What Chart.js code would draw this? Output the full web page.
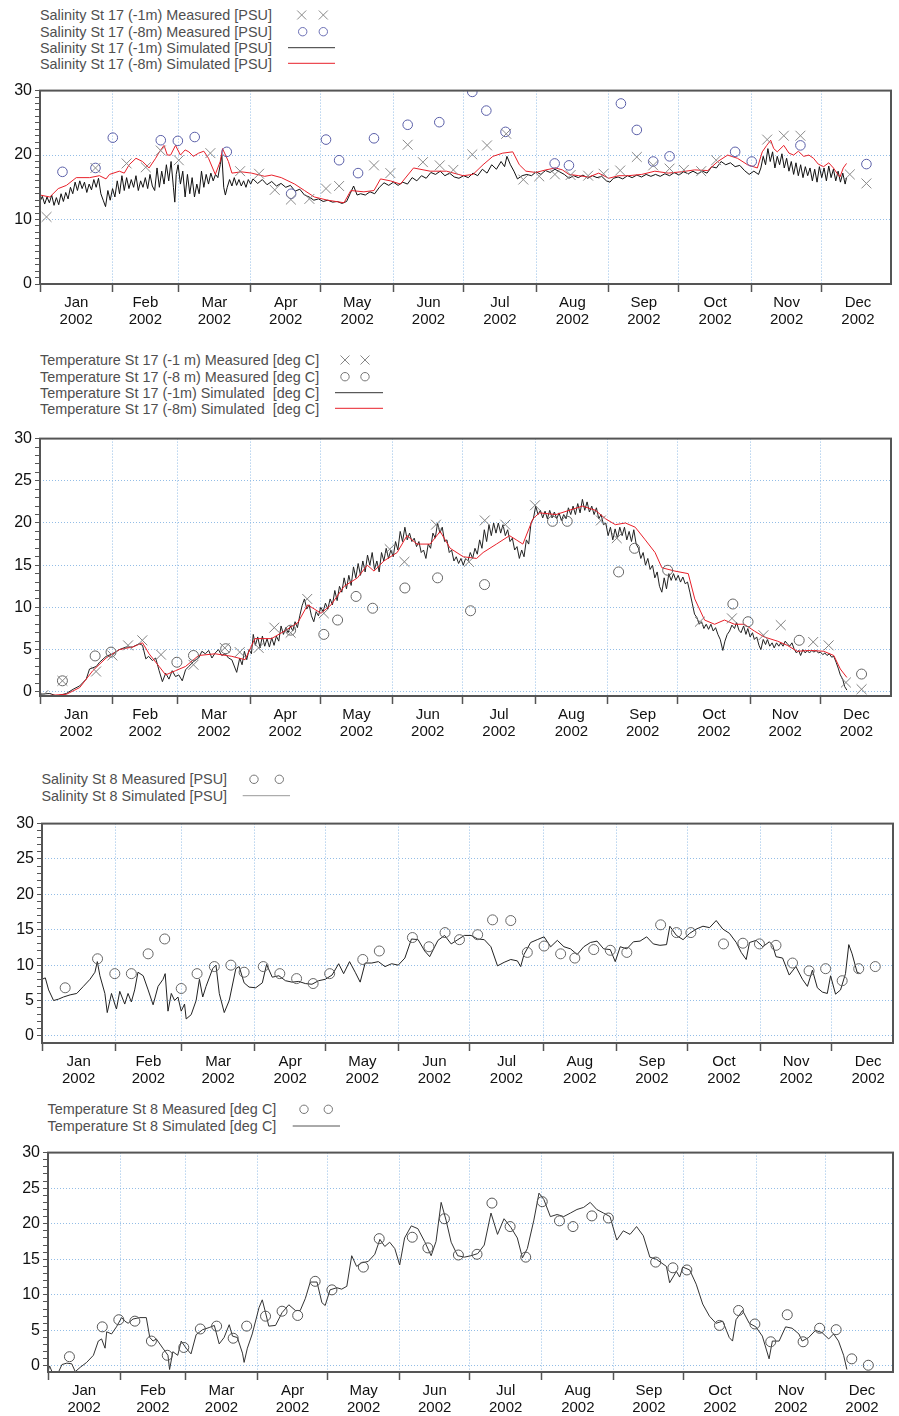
<!DOCTYPE html>
<html>
<head>
<meta charset="utf-8">
<title>St 17 / St 8 salinity and temperature 2002</title>
<script src="https://cdn.jsdelivr.net/npm/chart.js@4.4.0/dist/chart.umd.min.js"></script>
<style>
  body { margin: 0; background: #fff; width: 899px; height: 1416px; position: relative; overflow: hidden;
         font-family: "Liberation Sans", Arial, sans-serif; }
  canvas { position: absolute; left: 0; }
  .lg { position: absolute; font-size: 14.4px; line-height: 16px; color: #4f4f4f; white-space: pre; }
  svg.sym { position: absolute; left: 0; top: 0; pointer-events: none; }
</style>
</head>
<body>

<!-- legends -->
<div class="lg" style="left:40px;top:7px">Salinity St 17 (-1m) Measured [PSU]</div>
<div class="lg" style="left:40px;top:23.5px">Salinity St 17 (-8m) Measured [PSU]</div>
<div class="lg" style="left:40px;top:39.5px">Salinity St 17 (-1m) Simulated [PSU]</div>
<div class="lg" style="left:40px;top:55.5px">Salinity St 17 (-8m) Simulated [PSU]</div>

<div class="lg" style="left:40px;top:352px">Temperature St 17 (-1 m) Measured [deg C]</div>
<div class="lg" style="left:40px;top:368.5px">Temperature St 17 (-8 m) Measured [deg C]</div>
<div class="lg" style="left:40px;top:384.5px">Temperature St 17 (-1m) Simulated  [deg C]</div>
<div class="lg" style="left:40px;top:400.5px">Temperature St 17 (-8m) Simulated  [deg C]</div>

<div class="lg" style="left:41.5px;top:771px">Salinity St 8 Measured [PSU]</div>
<div class="lg" style="left:41.5px;top:787.5px">Salinity St 8 Simulated [PSU]</div>

<div class="lg" style="left:47.5px;top:1101px">Temperature St 8 Measured [deg C]</div>
<div class="lg" style="left:47.5px;top:1118px">Temperature St 8 Simulated [deg C]</div>

<svg class="sym" width="899" height="1416">
  <g fill="none" stroke-width="1">
    <path stroke="#8a8a8a" d="M297.2 10.5 L306.2 19.5 M306.2 10.5 L297.2 19.5 M318.8 10.5 L327.8 19.5 M327.8 10.5 L318.8 19.5"/>
    <circle stroke="#6b6fb5" cx="302.7" cy="31.7" r="4.2"/>
    <circle stroke="#6b6fb5" cx="323.3" cy="31.7" r="4.2"/>
    <path stroke="#333" d="M288 47.7 H335"/>
    <path stroke="#e8202a" d="M288 63.3 H335"/>

    <path stroke="#888" d="M340.5 355.5 L349.5 364.5 M349.5 355.5 L340.5 364.5 M360.5 355.5 L369.5 364.5 M369.5 355.5 L360.5 364.5"/>
    <circle stroke="#777" cx="345" cy="376.7" r="4.2"/>
    <circle stroke="#777" cx="365" cy="376.7" r="4.2"/>
    <path stroke="#333" d="M335 392.7 H383"/>
    <path stroke="#e8202a" d="M335 408.3 H383"/>

    <circle stroke="#777" cx="254" cy="779.3" r="4.2"/>
    <circle stroke="#777" cx="279.3" cy="779.3" r="4.2"/>
    <path stroke="#999" d="M242.7 795.7 H290"/>

    <circle stroke="#777" cx="304" cy="1109.3" r="4.2"/>
    <circle stroke="#777" cx="328.3" cy="1109.3" r="4.2"/>
    <path stroke="#555" d="M292.7 1126 H340"/>
  </g>
</svg>

<canvas id="p1"></canvas>
<canvas id="p2"></canvas>
<canvas id="p3"></canvas>
<canvas id="p4"></canvas>

<script>
// ---- axis labels ----
const MONTHS = ['Jan', 'Feb', 'Mar', 'Apr', 'May', 'Jun', 'Jul', 'Aug', 'Sep', 'Oct', 'Nov', 'Dec'];
const YEAR = '2002';
const monthStarts = [0, 31, 59, 90, 120, 151, 181, 212, 243, 273, 304, 334];   // day of year
const monthMids = [15.5, 45, 74.5, 105, 135.5, 166, 196.5, 227.5, 258, 288.5, 319, 349.5];
const yTickValues = [0, 1, 2, 3, 4, 5, 6, 7, 8, 9, 10, 11, 12, 13, 14, 15, 16, 17, 18, 19, 20,
                     21, 22, 23, 24, 25, 26, 27, 28, 29, 30];

// ---- Panel 1: salinity St 17 ----
const sal17MeasDays1 = [2.8, 23.7, 37.0, 45.2, 51.6, 59.3, 72.8, 85.5, 93.6, 100.3, 107.2, 115.1, 122.2, 127.8, 142.7, 149.7,
  157.1, 163.6, 170.8, 176.6, 184.7, 191.0, 199.2, 206.5, 213.3, 220.0, 226.7, 234.2, 240.8, 247.9, 255.0, 262.0, 269.0,
  275.1, 282.5, 288.9, 310.7, 317.8, 324.9, 346.0, 353.1];
const sal17Meas1 = [10.4, 18.0, 18.7, 18.1, 20.7, 19.2, 20.3, 17.5, 17.1, 14.6, 13.1, 13.2, 14.8, 15.2, 18.4, 17.2,
  21.6, 18.9, 18.4, 17.7, 20.1, 21.5, 23.3, 16.2, 16.7, 17.0, 16.9, 16.8, 17.1, 17.6, 19.7, 18.4, 17.9,
  17.7, 17.5, 19.2, 22.4, 23.0, 23.0, 17.0, 15.6];
const sal17MeasDays8 = [9.6, 23.7, 31.1, 51.6, 58.9, 66.1, 79.8, 107.3, 122.2, 127.8, 135.9, 142.7, 157.1, 170.6, 184.7,
  190.7, 198.9, 219.9, 226.0, 248.2, 255.0, 262.0, 269.0, 297.0, 304.1, 324.9, 353.1];
const sal17Meas8 = [17.4, 18.0, 22.7, 22.3, 22.2, 22.8, 20.5, 14.0, 22.4, 19.2, 17.2, 22.6, 24.7, 25.1, 29.8,
  26.9, 23.6, 18.7, 18.4, 28.0, 23.9, 19.0, 19.8, 20.5, 19.0, 21.5, 18.6];
const sal17Sim1 = [[0,12.8],[1,13.6],[2,12.4],[3,13.5],[4,12.6],[5,13.8],[6,12.2],[7,13.4],[8,12.3],[9,14.0],[10,12.8],
  [11,14.2],[12,13.2],[13,15.0],[14,14.0],[15,15.8],[16,14.5],[17,16.0],[18,14.8],[19,15.8],[20,14.2],[21,15.5],[22,14.6],
  [23,16.2],[24,15.0],[25,16.4],[26,14.0],[27,13.0],[28,12.0],[29,14.5],[30,13.0],[31,14.8],[32,13.5],[33,16.0],[34,14.0],
  [35,16.8],[36,14.5],[37,16.5],[38,14.8],[39,16.2],[40,15.0],[41,16.8],[42,14.5],[43,16.0],[44,15.0],[45,16.5],[46,14.8],
  [47,17.0],[48,15.2],[49,14.5],[50,18.0],[51,15.0],[52,17.5],[53,15.5],[54,18.5],[55,16.0],[56,19.0],[57,15.0],[57.6,12.7],
  [58.2,17.0],[59,18.5],[60,15.5],[61,17.5],[62,13.5],[63,17.0],[64,14.0],[65,16.5],[66,13.5],[67,15.5],[68,14.0],[69,17.5],
  [70,15.0],[71,17.0],[72,15.5],[73,17.2],[74,16.0],[75,17.0],[76,16.5],[77,18.5],[77.7,20.0],[78.5,15.0],[79.2,13.8],
  [80,15.0],[81,16.2],[82,15.2],[83,16.5],[84,15.3],[85,16.2],[86,15.2],[87,16.0],[88,15.0],[89,16.2],[90,15.5],
  [91,16.3],[93,15.6],[95,16.2],[97,15.4],[99,15.9],[101,15.2],[103,15.6],[105,15.0],[107,15.3],[109,14.4],[111,14.7],
  [113,13.8],[115,13.5],[117,13.0],[119,13.2],[121,12.8],[123,13.0],[125,12.7],[127,12.8],[129,12.5],[131,12.8],[132.5,14.0],
  [134,15.2],[135.5,13.8],[137,14.0],[139,13.8],[141,14.3],[143,14.0],[145,15.0],[147,15.7],[149,15.3],[151,15.8],[153,15.3],
  [155,15.8],[157,15.5],[159,16.5],[161,16.0],[163,16.8],[165,16.4],[167,17.3],[169,17.0],[171,17.5],
  [173,16.8],[175,17.2],[177,16.6],[179,16.4],[181,16.8],[183,16.5],[185,17.2],[187,16.8],[189,17.8],[191,17.2],[193,18.5],
  [195,17.8],[197,19.0],[198.5,18.2],[199.5,19.8],[201,18.5],[202.5,17.5],[204,16.3],[206,16.8],[208,17.0],[210,16.8],
  [212,17.4],[214,17.0],[216,17.6],[218,17.3],[220,17.8],[222,17.4],[224,17.0],[226,16.4],[228,16.8],[230,16.5],[232,16.9],
  [234,16.4],[236,16.8],[238,16.5],[240,16.7],[242,16.0],[243.5,15.8],[245,16.4],[247,16.6],[249,16.3],[251,16.8],[253,16.5],
  [255,16.9],[257,16.6],[259,17.0],[261,16.7],[263,17.0],[265,16.7],[267,17.1],[269,16.8],[271,17.3],[273,16.9],[275,17.4],
  [277,17.1],[279,17.5],[281,17.1],[283,17.5],[285,17.2],[287,18.2],[289,18.0],[291,19.0],[293,18.5],[295,18.8],[297,18.2],
  [299,18.4],[301,17.6],[303,17.0],[305,17.5],[307,17.0],
  [308,18.0],[309,19.8],[310,18.5],[311,21.0],[312,19.0],[313,20.5],[314,18.0],[315,19.8],[316,18.5],[317,20.2],[318,18.0],
  [319,19.5],[320,17.5],[321,19.0],[322,17.0],[323,18.8],[324,16.8],[325,18.5],[326,16.5],[327,18.2],[328,16.8],[329,18.0],
  [330,16.0],[331,17.8],[332,15.8],[333,18.2],[334,16.5],[335,18.0],[336,16.0],[337,18.3],[338,16.5],[339,17.8],[340,16.0],
  [341,17.5],[342,15.8],[343,17.2],[344,15.5],[344.6,16.5]];
const sal17Sim8 = [[0,13.8],[4.2,13.5],[7.8,14.8],[11.3,15.3],[15.5,16.5],[21.2,16.5],[25.4,16.8],[28.2,16.3],[29.7,17.0],
  [33.9,17.5],[36,17.2],[38.1,18.5],[41.0,19.5],[43.8,19.0],[46.6,18.0],[49.4,19.5],[51,20.5],[53.0,21.5],[54.4,20.0],
  [55.8,20.0],[57.9,21.5],[60.0,20.0],[62,20.8],[63.6,20.5],[65.5,19.8],[67.8,20.3],[70,20.6],[72.0,19.5],[74.9,17.0],
  [77.0,19.0],[78.0,21.0],[80.5,19.0],[82.0,17.2],[86,17.4],[90.4,17.2],[96.0,16.7],[99,16.9],[103.1,16.5],[108.8,15.5],
  [113.0,14.5],[117.2,13.5],[122.9,13.0],[129.9,12.6],[132.8,14.5],[138.4,14.3],[142.7,14.5],[145.5,16.3],[149.7,16.0],
  [154.0,15.5],[159.6,18.0],[166.7,17.5],[173.7,17.5],[180.8,16.8],[185.0,17.0],[189.3,18.5],[193.5,19.8],[197.7,20.3],
  [202.0,20.5],[204.8,18.5],[207.6,17.5],[211.9,17.3],[216.1,17.7],[220.3,18.0],[223.2,17.7],[226.0,17.0],[230.2,16.8],
  [234.5,16.6],[238.7,17.2],[243.0,16.4],[247.2,16.8],[251.4,16.8],[257.1,17.0],[262.7,17.5],[268.4,17.2],[274.0,17.4],
  [279.7,17.7],[285.3,17.6],[289.6,19.0],[293.8,20.0],[298.0,19.5],[302.3,18.5],[306.5,18.0],[308.6,20.5],[310.5,21.5],
  [312.2,22.3],[313.5,21.0],[315.0,20.5],[317.8,21.5],[320,20.3],[322.0,20.0],[324,20.6],[326.3,19.8],[328.5,20.0],
  [330.5,19.5],[332.5,18.6],[334.8,18.2],[337,18.8],[339.0,18.0],[340.5,17.2],[341.8,16.6],[343.2,18.0],[344.6,18.7]];

// ---- Panel 2: temperature St 17 ----
const tmp17MeasDays1 = [1.4, 9.6, 24.0, 31.0, 37.7, 43.8, 51.8, 65.7, 79.1, 85.5, 93.6, 100.3, 107.3, 114.4, 121.5, 149.7,
  156.0, 169.5, 183.6, 190.4, 199.2, 211.9, 240.1, 246.9, 282.5, 296.2, 309.7, 317.1, 331.0, 337.6, 345.0, 351.7];
const tmp17Meas1 = [-0.4, 1.3, 2.4, 4.3, 5.5, 6.1, 4.4, 3.2, 5.2, 4.7, 5.2, 7.6, 7.0, 11.0, 9.3, 16.9,
  15.4, 19.8, 15.4, 20.3, 19.8, 22.1, 20.3, 18.2, 8.3, 8.7, 6.7, 7.9, 5.9, 5.5, 1.1, 0.3];
const tmp17MeasDays8 = [9.6, 23.6, 30.4, 58.6, 65.7, 79.5, 107.3, 121.5, 127.4, 135.3, 142.4, 156.2, 170.2, 184.3, 190.3,
  219.4, 225.7, 247.7, 254.5, 268.7, 296.6, 303.1, 325.0, 351.7];
const tmp17Meas8 = [1.3, 4.25, 4.7, 3.5, 4.3, 5.1, 7.3, 6.8, 8.5, 11.3, 9.9, 12.3, 13.5, 9.6, 12.7,
  20.2, 20.2, 14.2, 17.0, 14.4, 10.4, 8.3, 6.1, 2.1];
const tmp17Sim1 = [[0,-0.3],[4.2,-0.2],[7.1,-0.5],[11.3,-0.2],[14.2,0.3],[17.0,0.7],[19.8,1.5],[21.2,2.7],[24.1,3.0],
  [25.5,3.5],[28.3,4.2],[31.1,4.5],[34.0,5.0],[36.8,5.3],[39.6,5.3],[42.5,5.7],[43.9,5.5],[45.3,3.9],[46.5,4.2],[48.1,3.7],
  [49.5,4.0],[51.0,2.5],[52.4,1.2],[53.8,2.2],[55.2,1.5],[56.6,2.5],[58,1.8],[59.4,2.0],[60.9,1.3],[62.3,2.6],[63.7,3.0],
  [65.8,3.6],[67.9,4.0],[69.3,4.8],[70.8,4.5],[72.2,4.9],[73.6,4.0],[75,4.6],[76.4,5.0],[77.8,4.3],[79.3,4.5],[80.7,4.0],
  [82.1,3.8],
  [84.2,2.3],[85.5,4.0],[86.5,3.2],[87.5,4.8],[88.5,3.8],[89.5,5.0],[90.5,4.5],[91.3,6.8],[92.2,5.5],[93.2,6.5],[94.2,5.2],
  [95.2,6.6],[96.2,5.4],[97.2,6.3],[98.2,5.3],[99.2,6.4],[100.2,5.5],[101.2,6.6],[102.2,6.0],[103.2,7.8],[104.2,6.8],
  [105.2,7.6],[106.2,7.0],[107.2,7.8],[108.2,7.2],[109.2,8.3],[110.2,7.6],[111.2,9.0],[112.2,10.2],[113.2,11.0],[114.2,9.8],
  [115.2,10.3],[116.2,9.0],[117.2,8.3],[118.2,9.5],[119.2,9.0],[120.2,10.0],[121.2,9.5],[122.2,10.5],[123.2,9.8],[124.2,11.0],
  [125.2,10.3],[126.2,12.0],[127.2,10.8],[128.2,12.5],[129.2,11.8],[130.2,13.5],[131.2,12.2],[132.2,13.8],[133.2,12.6],
  [134.2,14.8],[135.2,13.5],[136.2,15.2],[137.2,13.8],[138.2,15.5],[139.2,14.2],[140.2,16.2],[141.2,15.0],[142.2,16.5],
  [143.2,14.5],[144.2,15.5],[145.2,14.2],[146.2,16.5],[147.2,15.5],[148.2,17.0],[149.2,15.8],[150.2,16.8],[151.2,16.0],
  [152.2,17.8],[153.2,16.8],[154.2,19.0],[155.2,17.8],[156.2,19.5],[157.2,18.0],[158.2,18.8],[159.2,17.8],[160.2,18.2],
  [161.2,17.2],[162.2,17.8],[163.2,16.5],[164.2,16.8],[165.2,15.8],[166.2,17.5],[167.2,17.0],[168.2,18.8],[169.2,18.2],
  [170.2,20.0],[171.2,18.8],[172.2,19.5],[173.2,17.8],[174.2,18.0],[175.2,16.5],[176.2,16.8],[177.2,15.5],[178.2,16.0],
  [179.2,15.2],[180.2,15.8],[181.2,15.0],[182.2,15.8],[183.2,15.5],[184.2,16.5],[185.2,15.8],[186.2,17.0],[187.2,16.3],
  [188.2,18.0],[189.2,17.0],[190.2,19.2],[191.2,17.8],[192.2,19.8],[193.2,18.5],[194.2,20.0],[195.2,18.8],[196.2,20.0],
  [197.2,18.8],[198.2,19.8],[199.2,18.5],[200.2,19.2],[201.2,17.8],[202.2,18.2],[203.2,16.8],[204.2,17.2],[205.2,15.8],
  [206.2,16.8],[207.2,16.0],[208.2,18.0],[209.2,17.5],[210.2,20.0],[211.2,20.5],[212.2,22.0],[213.2,21.0],[214.2,21.5],
  [215.2,20.6],[216.2,21.4],[217.2,20.5],[218.2,21.5],[219.2,20.6],[220.2,21.3],[221.2,20.5],[222.2,21.2],[223.2,20.3],
  [224.2,21.0],[225.2,20.5],[226.2,21.8],[227.2,21.0],[228.2,22.0],[229.2,21.0],[230.2,22.3],[231.2,21.2],[232.2,22.8],
  [233.2,21.5],[234.2,22.5],[235.2,21.3],[236.2,22.0],[237.2,21.0],[238.2,21.8],[239.2,20.5],[240.2,21.0],[241.2,19.8],
  [242.2,20.0],[243.2,18.5],[244.2,19.5],[245.2,18.0],[246.2,19.3],[247.2,18.2],[248.2,19.5],[249.2,18.5],[250.2,19.5],
  [251.2,18.0],[252.2,19.0],[253.2,17.8],[254.2,19.2],[255.2,17.5],[256.2,17.0],[257.2,15.8],[258.2,16.5],[259.2,15.0],
  [260.2,15.8],[261.2,14.5],[262.2,15.0],[263.2,13.5],[264.2,14.2],[265.2,12.5],[266.2,11.8],[267.2,13.5],[268.2,12.2],
  [269.2,14.0],[270.2,13.2],[271.2,14.0],[272.2,13.2],[273.2,13.8],[274.2,13.0],[275.2,13.6],[276.2,12.8],[277.2,13.0],
  [278.2,11.8],[279.2,10.5],[280.2,9.2],[281.2,8.8],[282.2,8.0],[283.2,8.3],[284.2,7.5],[285.2,8.0],[286.2,7.4],[287.2,8.0],
  [288.2,7.2],[289.2,7.6],[290.2,6.8],[291.2,6.2],[292.3,4.9],[293.2,6.0],[294.2,6.8],[295.2,7.2],[296.2,7.9],[297.3,7.5],
  [298.2,8.2],[299.2,7.3],
  [300.1,7.0],[301.2,7.8],[302.2,6.8],[303.0,7.5],[304.0,6.5],[305.0,7.0],[305.8,6.2],[306.8,6.5],[307.8,5.5],[308.6,5.0],
  [309.6,6.2],[310.6,5.6],[311.4,6.2],[312.4,5.4],[313.4,5.8],[314.3,5.2],[315.3,5.8],[316.3,5.4],[317.1,5.8],[318.1,5.4],
  [319.0,6.0],[319.9,5.7],[320.9,5.4],[321.9,5.8],[322.8,5.1],[323.8,4.6],[324.8,4.9],[325.6,4.3],[326.6,5.0],[327.6,4.6],
  [328.4,4.9],[329.4,4.6],[330.4,4.9],[331.3,4.7],[332.3,4.9],[333.2,4.6],[334.1,4.7],[335.1,4.4],[336.0,4.6],[336.9,4.3],
  [337.9,4.5],[338.9,4.1],[339.8,4.2],[340.8,3.5],[341.7,2.8],[342.6,2.0],[343.6,1.5],[344.5,0.6],[345.4,0.2]];
const tmp17Sim8 = [[0,-0.5],[11.3,-0.3],[17.0,0.5],[22.6,2.5],[28.3,4.0],[34.0,5.0],[39.6,5.3],[43.9,5.8],[46.7,4.5],
  [51.0,3.0],[53.8,2.0],[58.0,2.5],[62.3,3.0],[67.9,4.3],[75.0,4.5],[82.1,4.2],[87.8,3.8],[92.0,6.3],[99.1,6.3],[104.7,7.2],
  [110.4,8.2],[114.6,10.3],[120.3,9.3],[124.6,10.3],[130.2,12.5],[135.9,13.5],[140.1,15.0],[143.0,14.3],[147.2,15.5],
  [152.9,16.5],[157.1,18.5],[161.4,17.5],[167.0,17.5],[171.3,19.0],[175.6,17.0],[181.2,16.0],[186.9,15.8],[189.7,16.5],
  [195.4,17.5],[201.0,18.5],[203.9,18.0],[206.7,17.5],[211.0,20.5],[213.8,21.2],[220.9,21.0],[226.5,21.5],[232.2,22.0],
  [237.8,21.5],[242.1,20.5],[246.3,19.8],[250.6,20.0],[254.8,19.5],[259.1,18.0],[263.3,16.5],[266.2,14.7],[271.8,14.3],
  [277.5,14.0],[280.3,11.0],[284.5,8.5],[288.8,8.0],[293.0,8.5],[297.3,8.0],[301.5,8.0],[305.8,7.2],[310.0,6.5],[315.7,6.0],
  [319.9,5.5],[324.2,4.8],[329.8,4.9],[335.5,4.8],[339.8,4.3],[342.6,2.7],[345.4,1.7]];

// ---- Panel 3: salinity St 8 ----
const sal8MeasDays = [9.8, 23.5, 30.8, 37.8, 44.9, 51.9, 58.9, 65.6, 72.9, 79.9, 85.5, 93.6, 100.6, 107.7, 114.7, 121.7,
  135.7, 142.7, 156.7, 163.7, 170.5, 176.6, 184.3, 190.6, 198.3, 205.3, 212.4, 219.4, 225.4, 233.4, 240.4, 247.4, 261.7,
  268.4, 274.5, 288.3, 296.5, 303.5, 310.5, 317.5, 324.5, 331.5, 338.5, 345.5, 352.5];
const sal8Meas = [6.8, 10.9, 8.8, 8.8, 11.6, 13.7, 6.7, 8.8, 9.8, 10.0, 9.0, 9.8, 8.8, 8.1, 7.4, 8.8,
  10.8, 12.0, 13.9, 12.6, 14.6, 13.6, 14.3, 16.4, 16.3, 11.8, 12.7, 11.6, 11.0, 12.2, 12.1, 11.8, 15.7,
  14.6, 14.6, 13.0, 13.1, 13.0, 12.8, 10.3, 9.2, 9.5, 7.8, 9.5, 9.8];
const sal8Sim = [[0,8.0],[1.4,8.2],[2.8,6.5],[4.9,5.0],[7.0,5.2],[9.1,5.5],[11.9,5.8],[14.7,6.0],[17.5,7.0],[20.3,8.0],
  [22.4,9.0],[23.4,10.5],[24.5,8.5],[26.6,6.0],[27.6,3.3],[29.4,6.0],[30.8,4.5],[31.5,3.8],[32.9,6.3],[35.0,4.5],[36.4,6.0],
  [37.8,4.8],[39.2,6.5],[40.6,9.0],[42.8,8.5],[44.9,6.5],[47.0,4.4],[49.1,7.0],[51.2,8.0],[52.1,8.8],[53.3,3.5],[54.7,6.0],
  [56.1,5.0],[57.5,5.5],[58.9,3.5],[60.3,4.5],[61.0,2.4],[63.1,3.0],[65.2,5.0],[66.6,8.0],[68.0,5.5],[69.4,7.0],[72.2,9.5],
  [73.6,10.0],[75.0,6.0],[77.1,3.3],[79.2,5.0],[82.0,9.5],[83.4,9.8],[85.5,7.5],[87.6,6.9],[90.4,6.8],[93.2,7.5],[95.0,10.1],
  [97.4,8.3],[100.2,8.5],[103.0,7.8],[105.8,7.6],[108.6,7.7],[111.4,7.4],[114.2,7.3],[117.0,7.8],[119.8,8.0],[122.7,8.6],
  [125.5,10.2],[127.6,8.8],[130.1,10.5],[132.5,9.0],[134.6,7.6],[136.7,10.3],[139.5,10.3],[142.3,10.5],[145.1,9.8],
  [147.9,10.2],[150.7,10.0],[153.5,11.0],[156.3,13.7],[159.1,13.6],[161.9,12.0],[164.0,11.2],[167.5,13.5],[170.3,14.2],
  [173.1,13.0],[175.9,13.6],[178.7,14.2],[181.5,14.2],[184.3,13.7],[187.1,13.6],[189.9,12.6],[192.7,9.9],[195.5,10.4],
  [198.3,10.8],[201.1,10.6],[202.5,9.8],[203.9,11.5],[206.7,13.2],[209.5,13.6],[212.4,14.0],[215.2,12.6],[218.0,13.5],
  [220.8,12.6],[223.6,12.3],[226.4,11.5],[229.2,12.6],[232.0,13.2],[234.8,13.4],[237.6,12.3],[240.4,12.2],[242.5,10.5],
  [244.6,12.6],[247.4,12.3],[250.2,13.3],[253.0,13.4],[255.8,14.0],[258.6,13.0],[261.4,12.8],[264.2,12.9],[265.6,15.5],
  [268.4,14.2],[271.2,13.6],[274.0,14.5],[276.8,15.1],[279.6,15.5],[282.4,15.3],[285.2,16.3],[288.0,15.1],[290.8,14.5],
  [293.7,13.2],[295.8,11.8],[297.9,10.8],[299.3,13.2],[302.1,13.5],[304.9,12.6],[307.7,13.3],[309.1,12.8],[310.5,11.2],
  [313.3,11.0],[316.1,8.6],[318.9,9.8],[321.7,8.0],[323.8,7.0],[325.9,9.3],[328.0,6.8],[330.1,6.2],[332.2,6.0],[333.6,8.5],
  [335.7,5.9],[337.8,6.5],[339.9,8.8],[341.3,12.9],[342.7,11.6],[344.8,9.0],[346.2,8.8]];

// ---- Panel 4: temperature St 8 ----
const tmp8MeasDays = [9.2, 23.3, 30.4, 37.3, 44.4, 51.2, 58.3, 65.4, 72.4, 79.5, 85.3, 93.4, 100.5, 107.2, 114.7, 121.9,
  135.4, 142.2, 156.4, 163.1, 170.2, 176.2, 184.2, 190.6, 198.4, 205.1, 212.2, 219.6, 225.4, 233.5, 240.6, 260.9, 268.3,
  274.3, 288.3, 296.5, 303.5, 310.3, 317.4, 324.2, 331.3, 338.4, 345.1, 352.2];
const tmp8Meas = [1.3, 5.5, 6.5, 6.3, 3.5, 1.5, 2.6, 5.2, 5.6, 3.9, 5.6, 7.0, 7.7, 7.1, 11.9, 10.7,
  13.9, 17.9, 18.1, 16.6, 20.7, 15.6, 15.7, 22.9, 19.6, 15.3, 23.1, 20.4, 19.6, 21.1, 20.8, 14.6, 13.8,
  13.5, 5.7, 7.8, 5.9, 3.4, 7.2, 3.4, 5.3, 5.1, 1.0, 0.1];
const tmp8Sim = [[0,-0.8],[0.7,0.0],[1.7,-0.8],[4.6,-0.8],[6.0,0.2],[8.1,0.4],[10.2,0.3],[11.7,-0.8],[13.8,-0.2],[16.6,0.5],
  [19.5,1.5],[21.6,3.5],[23.0,3.8],[24.5,2.5],[25.2,4.8],[27.3,4.5],[29.4,5.5],[31.6,6.8],[33.0,6.3],[34.4,6.0],[36.5,6.6],
  [39.4,6.8],[42.2,6.8],[43.7,4.0],[45.1,3.5],[46.5,3.8],[49.3,2.5],[51.5,1.5],[52.2,-0.5],[53.6,2.0],[55.7,1.5],[57.2,3.5],
  [59.3,2.5],[61.4,1.7],[63.6,4.4],[66.4,5.1],[69.2,5.4],[71.4,5.7],[73.5,3.1],[75.6,4.0],[77.8,5.8],[79.2,4.2],[81.3,4.0],
  [83.5,1.8],[84.2,0.5],[85.6,2.5],[87.7,4.5],[90.6,8.2],[92.0,9.3],[93.4,7.5],[94.8,5.6],[97.7,5.7],[100.5,7.5],[103.4,8.6],
  [106.2,7.8],[108.3,7.8],[110.5,9.5],[112.6,11.8],[115.5,11.8],[117.6,8.9],[119.0,8.5],[121.1,10.7],[124.0,11.0],
  [126.1,10.8],[128.3,11.2],[130.4,15.5],[132.5,14.0],[134.7,14.5],[137.5,14.7],[140.3,15.7],[142.5,17.8],[144.6,16.8],
  [146.7,17.4],[148.9,16.5],[151.0,14.2],[153.1,18.0],[156.0,19.7],[158.8,19.3],[161.7,17.5],[164.5,15.5],[166.6,17.5],
  [168.8,23.0],[170.9,20.5],[173.1,17.4],[175.9,15.5],[178.8,15.3],[181.6,15.5],[184.5,15.8],[187.3,17.0],[190.2,21.5],
  [193.0,18.5],[195.8,20.7],[198.7,19.5],[201.5,18.0],[203.7,15.2],[205.8,16.5],[208.6,20.5],[210.8,24.3],[212.9,23.4],
  [215.7,21.0],[218.6,21.3],[221.4,21.0],[224.3,21.5],[227.1,22.0],[230.0,22.3],[232.8,23.0],[235.6,22.0],[238.5,21.5],
  [241.3,21.0],[244.2,17.7],[247.0,19.0],[249.9,18.5],[252.7,19.6],[255.6,18.3],[258.4,15.3],[261.2,15.0],[265.5,14.0],
  [266.9,11.7],[269.8,13.3],[271.2,12.5],[272.6,13.9],[275.5,13.5],[278.3,11.5],[281.1,8.7],[284.0,7.0],[286.8,6.0],
  [289.7,6.3],[292.5,4.0],[293.9,3.5],[295.4,6.5],[298.2,7.8],[301.1,6.0],[303.9,5.5],[306.7,4.2],[309.6,1.0],[311.0,3.5],
  [313.9,3.5],[316.7,5.5],[319.5,5.3],[322.4,4.5],[323.8,3.5],[326.6,4.0],[329.5,5.0],[332.3,4.7],[335.2,3.8],[337.3,4.5],
  [339.4,3.5],[341.6,1.5],[343.0,-0.5]];

// ---- drawing ----
const GRID = '#93bde6';
const FRAME = '#555';
const PAD_TOP = 12;
const X_AXIS_H = 45;
const FONT = '"Liberation Sans", Arial, sans-serif';

const framePlugin = {
  id: 'frame',
  afterDatasetsDraw(chart) {
    const { ctx, chartArea: a } = chart;
    ctx.save();
    ctx.strokeStyle = FRAME;
    ctx.lineWidth = 2;
    ctx.strokeRect(a.left, a.top, a.right - a.left, a.bottom - a.top);
    ctx.restore();
  }
};

function simLine(pairs, color, order) {
  return {
    data: pairs.map(([x, y]) => ({ x, y })),
    showLine: true, borderColor: color, borderWidth: 1, pointRadius: 0, tension: 0, order
  };
}

function marks(days, vals, style, color, radius) {
  return {
    data: days.map((d, i) => ({ x: d, y: vals[i] })),
    showLine: false, pointStyle: style, pointRadius: radius,
    pointBorderColor: color, pointBackgroundColor: 'rgba(0,0,0,0)', pointBorderWidth: 1, order: 0
  };
}

function makePanel(p) {
  const cv = document.getElementById(p.id);
  cv.width = 899;
  cv.height = p.bottom - p.top + PAD_TOP + X_AXIS_H;
  cv.style.top = (p.top - PAD_TOP) + 'px';
  const xTicks = monthStarts.concat(monthMids).sort((a, b) => a - b);

  new Chart(cv, {
    type: 'scatter',
    data: { datasets: p.datasets },
    options: {
      responsive: false,
      animation: false,
      events: [],
      layout: { padding: { top: PAD_TOP, right: 1, left: 0, bottom: 0 } },
      plugins: { legend: { display: false }, tooltip: { enabled: false } },
      scales: {
        x: {
          type: 'linear', min: 0, max: p.xMax,
          afterBuildTicks: s => { s.ticks = xTicks.map(v => ({ value: v })); },
          afterFit: s => { s.height = X_AXIS_H; },
          grid: {
            color: c => (c.tick && monthStarts.includes(c.tick.value)) ? GRID : 'rgba(0,0,0,0)',
            tickColor: c => (c.tick && monthStarts.includes(c.tick.value)) ? FRAME : 'rgba(0,0,0,0)',
            tickLength: 8, lineWidth: 1, tickWidth: 1.5
          },
          border: { display: false, dash: [1, 2] },
          ticks: {
            autoSkip: false, maxRotation: 0, padding: 2, color: '#111',
            font: { family: FONT, size: 15, lineHeight: 1.15 },
            callback: v => {
              const i = monthMids.indexOf(v);
              return i >= 0 ? [MONTHS[i], YEAR] : '';
            }
          }
        },
        y: {
          type: 'linear', min: p.yMin, max: 30,
          afterBuildTicks: s => { s.ticks = yTickValues.map(v => ({ value: v })); },
          afterFit: s => { s.width = p.left; },
          grid: {
            color: c => (c.tick && c.tick.value % p.major === 0) ? GRID : 'rgba(0,0,0,0)',
            tickColor: FRAME, tickLength: 5, lineWidth: 1
          },
          border: { display: false, dash: [1, 2] },
          ticks: {
            autoSkip: false, padding: 3, color: '#111',
            font: { family: FONT, size: 16 },
            callback: v => (v % p.major === 0 ? String(v) : '')
          }
        }
      }
    },
    plugins: [framePlugin]
  });
}

makePanel({
  id: 'p1', top: 90, bottom: 284, left: 40, xMax: 363.6, yMin: 0, major: 10,
  datasets: [
    marks(sal17MeasDays1, sal17Meas1, 'crossRot', '#8a8a8a', 7),
    marks(sal17MeasDays8, sal17Meas8, 'circle', '#5a5fa8', 4.8),
    simLine(sal17Sim8, '#e8202a', 1),
    simLine(sal17Sim1, '#111', 2)
  ]
});

makePanel({
  id: 'p2', top: 438, bottom: 696, left: 40, xMax: 364.3, yMin: -0.5, major: 5,
  datasets: [
    marks(tmp17MeasDays1, tmp17Meas1, 'crossRot', '#808080', 7),
    marks(tmp17MeasDays8, tmp17Meas8, 'circle', '#666', 5),
    simLine(tmp17Sim8, '#e8202a', 1),
    simLine(tmp17Sim1, '#222', 2)
  ]
});

makePanel({
  id: 'p3', top: 823, bottom: 1043, left: 42, xMax: 360, yMin: -1, major: 5,
  datasets: [
    marks(sal8MeasDays, sal8Meas, 'circle', '#666', 5),
    simLine(sal8Sim, '#222', 1)
  ]
});

makePanel({
  id: 'p4', top: 1152, bottom: 1372, left: 48, xMax: 362.8, yMin: -0.85, major: 5,
  datasets: [
    marks(tmp8MeasDays, tmp8Meas, 'circle', '#555', 5),
    simLine(tmp8Sim, '#333', 1)
  ]
});
</script>
</body>
</html>
